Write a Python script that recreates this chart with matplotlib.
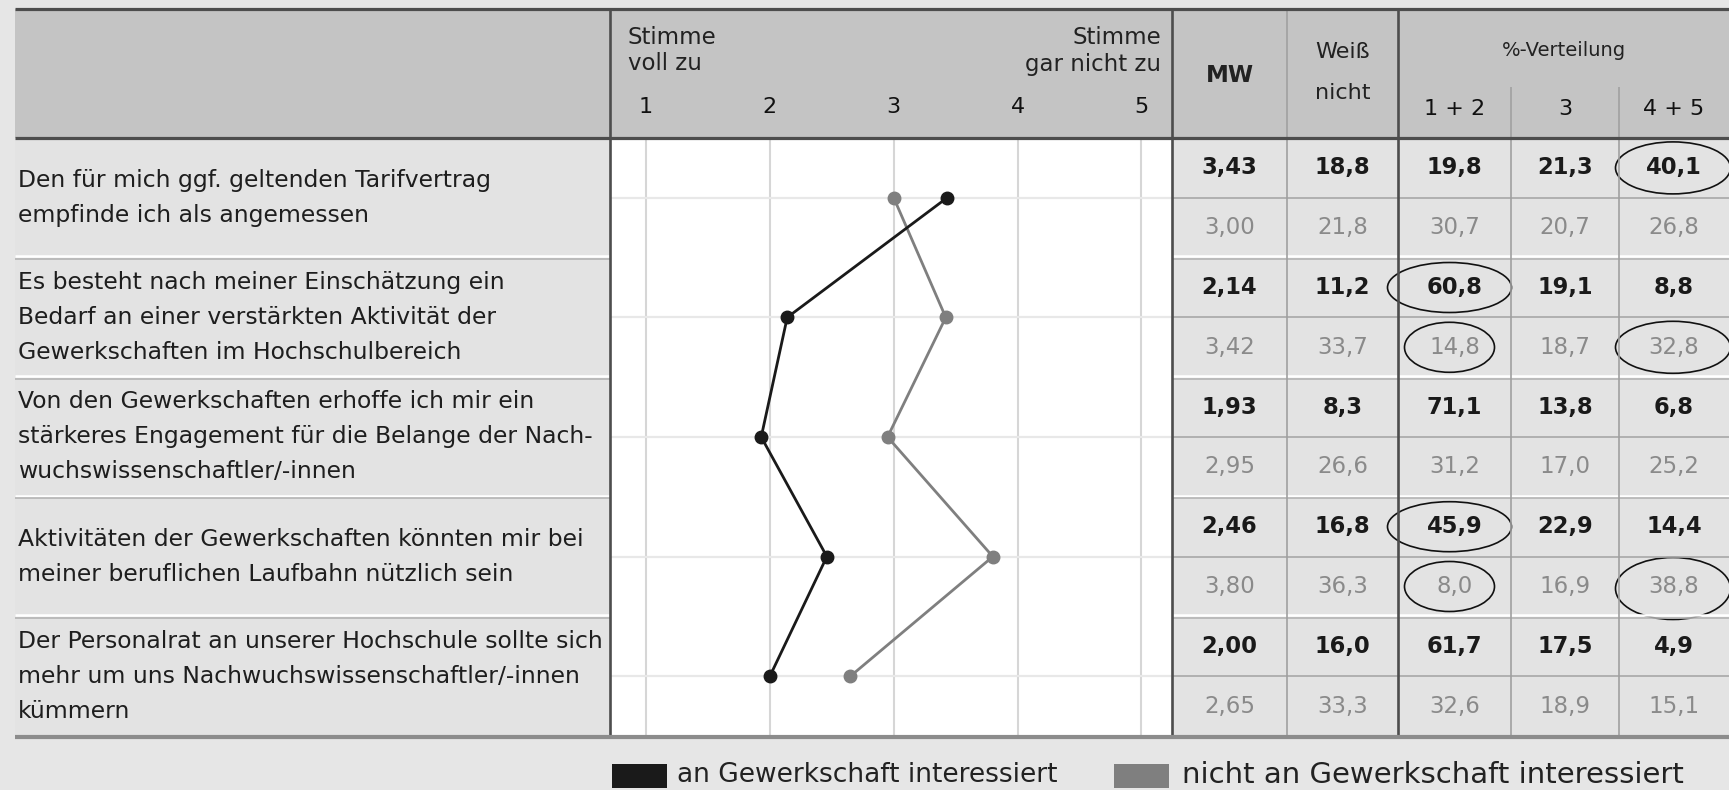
import matplotlib
matplotlib.use("Agg")
import matplotlib.pyplot as plt
from matplotlib.patches import Rectangle, Ellipse

# ---------------- data ----------------
items = [
    "Den für mich ggf. geltenden Tarifvertrag\nempfinde ich als angemessen",
    "Es besteht nach meiner Einschätzung ein\nBedarf an einer verstärkten Aktivität der\nGewerkschaften im Hochschulbereich",
    "Von den Gewerkschaften erhoffe ich mir ein\nstärkeres Engagement für die Belange der Nach-\nwuchswissenschaftler/-innen",
    "Aktivitäten der Gewerkschaften könnten mir bei\nmeiner beruflichen Laufbahn nützlich sein",
    "Der Personalrat an unserer Hochschule sollte sich\nmehr um uns Nachwuchswissenschaftler/-innen\nkümmern",
]
scale_ticks = [1, 2, 3, 4, 5]
series_names = ["an Gewerkschaft interessiert", "nicht an Gewerkschaft interessiert"]

mw_int = [3.43, 2.14, 1.93, 2.46, 2.00]
mw_not = [3.00, 3.42, 2.95, 3.80, 2.65]
weiss_int = [18.8, 11.2, 8.3, 16.8, 16.0]
weiss_not = [21.8, 33.7, 26.6, 36.3, 33.3]
p12_int = [19.8, 60.8, 71.1, 45.9, 61.7]
p12_not = [30.7, 14.8, 31.2, 8.0, 32.6]
p3_int = [21.3, 19.1, 13.8, 22.9, 17.5]
p3_not = [20.7, 18.7, 17.0, 16.9, 18.9]
p45_int = [40.1, 8.8, 6.8, 14.4, 4.9]
p45_not = [26.8, 32.8, 25.2, 38.8, 15.1]

# highlighted cells: (sub-row index, column index)  columns: 0 MW,1 Weiß,2 1+2,3 3,4 4+5
highlights = [(0, 4), (2, 2), (3, 2), (3, 4), (6, 2), (7, 2), (7, 4)]

# ---------------- layout (pixels) ----------------
W, H = 1729, 790
X0 = 15
PLOT_L, PLOT_R = 610, 1172
COLS = [1172, 1287, 1398, 1511, 1619, 1729]
TOP, HDR, BOT = 9, 138, 736
NSUB = 2 * len(items)
SUBH = (BOT - HDR) / NSUB

DARK = "#1a1a1a"
GREY = "#7f7f7f"
FONT = "DejaVu Sans"

fig = plt.figure(figsize=(W / 100, H / 100), dpi=100, facecolor="#e6e6e6")

def px_axes(z):
    a = fig.add_axes([0, 0, 1, 1], zorder=z)
    a.set_xlim(0, W)
    a.set_ylim(H, 0)
    a.axis("off")
    a.patch.set_alpha(0)
    return a

bg = px_axes(0)
bg.add_patch(Rectangle((X0, TOP), W - X0, HDR - TOP, fc="#c4c4c4", ec="none"))
bg.add_patch(Rectangle((X0, HDR), PLOT_L - X0, BOT - HDR, fc="#e3e3e3", ec="none"))
bg.add_patch(Rectangle((PLOT_R, HDR), W - PLOT_R, BOT - HDR, fc="#e3e3e3", ec="none"))

# ---------------- plot area ----------------
ax = fig.add_axes([PLOT_L / W, 1 - BOT / H, (PLOT_R - PLOT_L) / W, (BOT - HDR) / H], zorder=1)
ax.set_facecolor("white")
ax.set_xlim(1 - 36 / 123.75, 5 + 30.5 / 123.75)
ax.set_ylim(NSUB, 0)
for s in ax.spines.values():
    s.set_visible(False)
ax.set_xticks([])
ax.set_yticks([])
for t in scale_ticks:
    ax.axvline(t, color="#d6d6d6", lw=1.5, zorder=1)
ypos = [2 * i + 1 for i in range(len(items))]
for y in ypos:
    ax.axhline(y, color="#e8e8e8", lw=1.6, zorder=1)
ax.plot(mw_not, ypos, color=GREY, lw=2.0, marker="o", ms=9, zorder=3)
ax.plot(mw_int, ypos, color=DARK, lw=2.0, marker="o", ms=9, zorder=4)

# ---------------- overlay: lines, text ----------------
ov = px_axes(2)

def hline(y, x1, x2, c, lw):
    ov.plot([x1, x2], [y, y], color=c, lw=lw, solid_capstyle="butt")

def vline(x, y1, y2, c, lw):
    ov.plot([x, x], [y1, y2], color=c, lw=lw, solid_capstyle="butt")

# item separators (white + grey) in label column and number area
for k in range(1, len(items)):
    y = HDR + SUBH * 2 * k
    for (a, b) in [(X0, PLOT_L), (PLOT_R, W)]:
        hline(y - 1.2, a, b, "white", 1.8)
        hline(y + 1.3, a, b, "#b4b4b4", 1.2)
# sub-row separators in number area
for k in range(len(items)):
    y = HDR + SUBH * (2 * k + 1)
    hline(y, PLOT_R, W, "#a8a8a8", 1.2)

# vertical lines
vline(COLS[1], TOP, BOT, "#a0a0a0", 1.2)
vline(COLS[3], 87, BOT, "#a0a0a0", 1.2)
vline(COLS[4], 87, BOT, "#a0a0a0", 1.2)
for x in (PLOT_L, PLOT_R, COLS[2]):
    vline(x, TOP, BOT, "#4d4d4d", 1.9)

hline(TOP, X0, W, "#4d4d4d", 2.3)
hline(HDR, X0, W, "#4d4d4d", 2.3)
hline(BOT + 1, X0, W, "#8c8c8c", 3.0)

# header texts
hs = 16
ov.text(628, 38, "Stimme", fontsize=16.5, family=FONT, color="#222", ha="left", va="center")
ov.text(628, 64, "voll zu", fontsize=16.5, family=FONT, color="#222", ha="left", va="center")
ov.text(1161, 38, "Stimme", fontsize=16.5, family=FONT, color="#222", ha="right", va="center")
ov.text(1161, 64, "gar nicht zu", fontsize=16.5, family=FONT, color="#222", ha="right", va="center")
for t in scale_ticks:
    xp = ax.transData.transform((t, 0))[0]
    ov.text(xp * W / fig.bbox.width, 107, str(t), fontsize=hs, family=FONT, color="#111",
            ha="center", va="center")

def colc(i):
    return (COLS[i] + COLS[i + 1]) / 2

ov.text(colc(0), 75, "MW", fontsize=16.5, family=FONT, weight="bold", color="#222", ha="center", va="center")
ov.text(colc(1), 52, "Weiß", fontsize=hs, family=FONT, color="#222", ha="center", va="center")
ov.text(colc(1), 93, "nicht", fontsize=hs, family=FONT, color="#222", ha="center", va="center")
ov.text((COLS[2] + COLS[5]) / 2, 50, "%-Verteilung", fontsize=14, family=FONT, color="#222",
        ha="center", va="center")
for i, lab in zip((2, 3, 4), ("1 + 2", "3", "4 + 5")):
    ov.text(colc(i), 109, lab, fontsize=hs, family=FONT, color="#111", ha="center", va="center")

# item labels
step = 35
for i, lab in enumerate(items):
    lines = lab.split("\n")
    yc = HDR + SUBH * (2 * i + 1)
    for j, ln in enumerate(lines):
        y = yc + (j - (len(lines) - 1) / 2) * step
        ov.text(18, y, ln, fontsize=16.9, family=FONT, color="#1e1e1e", ha="left", va="center")

# numbers
def fmt(v, d):
    return f"{v:.{d}f}".replace(".", ",")

cols_int = [mw_int, weiss_int, p12_int, p3_int, p45_int]
cols_not = [mw_not, weiss_not, p12_not, p3_not, p45_not]
for i in range(len(items)):
    for c in range(5):
        d = 2 if c == 0 else 1
        y1 = HDR + SUBH * (2 * i + 0.5)
        y2 = HDR + SUBH * (2 * i + 1.5)
        ov.text(colc(c), y1, fmt(cols_int[c][i], d), fontsize=16.3, family=FONT,
                weight="bold", color=DARK, ha="center", va="center")
        ov.text(colc(c), y2, fmt(cols_not[c][i], d), fontsize=16.5, family=FONT,
                color="#8a8a8a", ha="center", va="center")

# ellipses around highlighted cells
for (r, c) in highlights:
    yc = HDR + SUBH * (r + 0.5)
    if c == 2:
        w = 124 if r % 2 == 0 else 90
        xc = colc(c) - 5
        h = 50
    else:
        w = 115
        xc = colc(c) - 1
        h = 52
    if r == 7 and c == 4:
        h = 62
        yc += 2
    ov.add_patch(Ellipse((xc, yc), w, h, fill=False, ec="#111", lw=1.2))

# legend
ov.add_patch(Rectangle((612, 764), 55, 24, fc=DARK, ec="none"))
ov.text(677, 775, series_names[0], fontsize=19, family=FONT, color="#222", ha="left", va="center")
ov.add_patch(Rectangle((1114, 764), 55, 24, fc=GREY, ec="none"))
ov.text(1182, 775, series_names[1], fontsize=21, family=FONT, color="#222", ha="left", va="center")

fig.savefig("out.png", dpi=100, facecolor=fig.get_facecolor())
